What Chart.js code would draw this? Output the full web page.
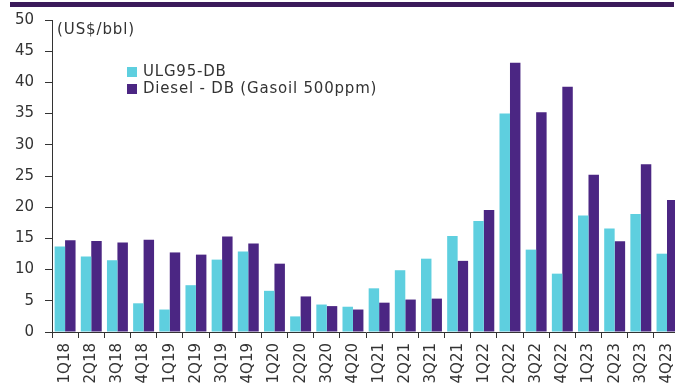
<!DOCTYPE html>
<html>
<head>
<meta charset="utf-8">
<script src="https://cdn.jsdelivr.net/npm/chart.js@4.4.1/dist/chart.umd.min.js"></script>
<style>
  html, body { margin: 0; padding: 0; background: #fff; overflow: hidden; }
  body { width: 675px; height: 387px; position: relative; font-family: "DejaVu Sans", sans-serif; color: #333; }
  .wrap { position: absolute; left: 0; top: 0; width: 690px; height: 387px; }
  .topband { position: absolute; left: 10px; top: 2px; width: 664px; height: 5px; background: #3b1a5a; }
  .unit { position: absolute; left: 57px; top: 20px; font-size: 15px; line-height: 18px; letter-spacing: 0.9px; }
  .legend { position: absolute; left: 127px; top: 63px; font-size: 15px; line-height: 17px; letter-spacing: 0.8px; }
  .legend div { display: flex; align-items: center; }
  .legend span.sw { width: 10px; height: 10px; margin-right: 6px; display: inline-block; }
</style>
</head>
<body>
<div class="topband"></div>
<div class="wrap"><canvas id="spreads-chart" width="690" height="387"></canvas></div>
<div class="unit">(US$/bbl)</div>
<div class="legend">
  <div><span class="sw" style="background:#5ecfdf"></span>ULG95-DB</div>
  <div><span class="sw" style="background:#4b2683"></span>Diesel - DB (Gasoil 500ppm)</div>
</div>
<script>
/* ============================================
   Gasoline / diesel spreads vs Dubai
   ============================================ */
const quarters = ['1Q18','2Q18','3Q18','4Q18','1Q19','2Q19','3Q19','4Q19',
  '1Q20','2Q20','3Q20','4Q20','1Q21','2Q21','3Q21','4Q21',
  '1Q22','2Q22','3Q22','4Q22','1Q23','2Q23','3Q23','4Q23'];
const ulg95 = [13.7, 12.1, 11.5, 4.6, 3.6, 7.5, 11.6, 12.9,
  6.6, 2.5, 4.4, 4.05, 7.0, 9.9, 11.75, 15.4,
  17.8, 35.0, 13.2, 9.35, 18.65, 16.6, 18.9, 12.55];
const diesel = [14.7, 14.6, 14.35, 14.8, 12.75, 12.4, 15.3, 14.2,
  10.95, 5.7, 4.15, 3.6, 4.7, 5.2, 5.35, 11.4,
  19.55, 43.15, 35.2, 39.3, 25.2, 14.55, 26.9, 21.15];
const yTicks = [0, 5, 10, 15, 20, 25, 30, 35, 40, 45, 50];

const axisColor = '#333';
const fontSpec = { family: 'DejaVu Sans', size: 15 };

new Chart(document.getElementById('spreads-chart'), {
  type: 'bar',
  data: {
    labels: quarters,
    datasets: [
      { label: 'ULG95-DB', data: ulg95, backgroundColor: '#5ecfdf', borderWidth: 0 },
      { label: 'Diesel - DB (Gasoil 500ppm)', data: diesel, backgroundColor: '#4b2683', borderWidth: 0 }
    ]
  },
  options: {
    responsive: false,
    animation: false,
    layout: { padding: { top: 18, right: 0, left: 0, bottom: 0 } },
    categoryPercentage: 0.8,
    barPercentage: 1.0,
    plugins: {
      legend: { display: false },
      tooltip: { enabled: false }
    },
    scales: {
      x: {
        grid: { drawOnChartArea: false, drawTicks: true, tickLength: 6, color: axisColor, offset: true },
        border: { display: true, color: axisColor, width: 1 },
        ticks: { color: axisColor, font: fontSpec, minRotation: 90, maxRotation: 90, autoSkip: false, padding: 5 },
        afterFit: axis => { axis.height = 55; }
      },
      y: {
        min: 0,
        max: 50,
        afterBuildTicks: axis => { axis.ticks = yTicks.map(v => ({ value: v })); },
        grid: { drawOnChartArea: false, drawTicks: true, tickLength: 7, color: axisColor },
        border: { display: true, color: axisColor, width: 1 },
        ticks: { color: axisColor, font: fontSpec, padding: 11 },
        afterFit: axis => { axis.width = 52; }
      }
    }
  }
});
</script>
</body>
</html>
